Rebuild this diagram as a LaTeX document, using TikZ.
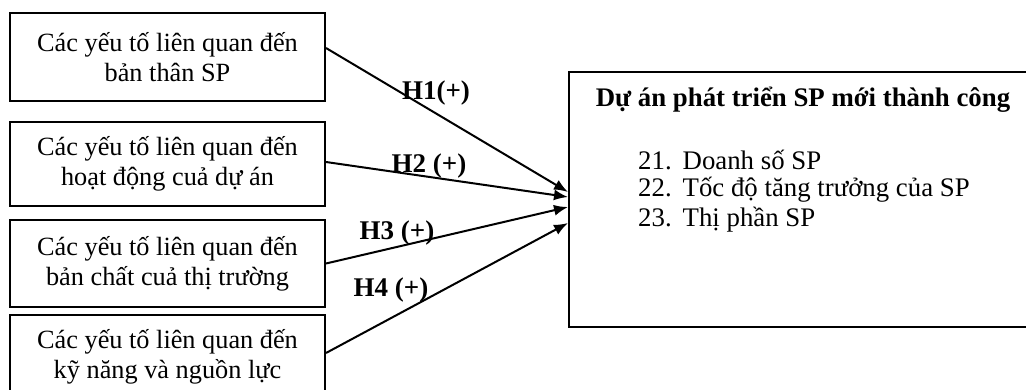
\documentclass[tikz,border=0pt]{standalone}
\usepackage{fontspec}
\setmainfont{Liberation Serif}
\usetikzlibrary{arrows.meta}
\begin{document}
\begin{tikzpicture}[x=1pt,y=-1pt,
  factor/.style={draw=black,line width=2pt,minimum width=315pt,align=center,inner sep=0pt,
    font=\fontsize{26.3}{30}\selectfont},
  outcome/.style={draw=black,line width=2pt,inner sep=0pt},
  link/.style={line width=2pt,-{Latex[length=14pt,width=11pt]}},
  hlabel/.style={font=\fontsize{27}{30}\selectfont\bfseries,inner sep=0pt},
  body/.style={font=\fontsize{26.8}{30}\selectfont,inner sep=0pt}]
\useasboundingbox (0,0) rectangle (1026,389);
\clip (0,0) rectangle (1026,389);
\node[factor,minimum height=88pt] (b1) at (167.5,57) {Các yếu tố liên quan đến\\bản thân SP};
\node[factor,minimum height=84pt] (b2) at (167.5,164) {Các yếu tố liên quan đến\\hoạt động cuả dự án};
\node[factor,minimum height=87pt] (b3) at (167.5,263.5) {Các yếu tố liên quan đến\\bản chất cuả thị trường};
\node[factor,minimum height=84pt] (b4) at (167.5,357) {Các yếu tố liên quan đến\\kỹ năng và nguồn lực};
\node[outcome,minimum width=480pt,minimum height=255pt] (r) at (809,199.5) {};
\node[body,font=\fontsize{26.8}{30}\selectfont\bfseries] (title) at (803,100) {Dự án phát triển SP mới thành công};
\node[body,anchor=west] (i1) at (638,160) {21.\hspace{11pt}Doanh số SP};
\node[body,anchor=west] (i2) at (638,190) {22.\hspace{11pt}Tốc độ tăng trưởng của SP};
\node[body,anchor=west] (i3) at (638,220) {23.\hspace{11pt}Thị phần SP};
\draw[link] ([yshift=9pt]b1.east) -- ([yshift=7.5pt]r.west);
\draw[link] ([yshift=2pt]b2.east) -- ([yshift=2.5pt]r.west);
\draw[link] (b3.east) -- ([yshift=-7.5pt]r.west);
\draw[link] ([yshift=4pt]b4.east) -- ([yshift=-23.5pt]r.west);
\node[hlabel] (h1) at (436,93) {H1(+)};
\node[hlabel] (h2) at (429,166) {H2 (+)};
\node[hlabel] (h3) at (397,233) {H3 (+)};
\node[hlabel] (h4) at (391,290) {H4 (+)};
\end{tikzpicture}
\end{document}
